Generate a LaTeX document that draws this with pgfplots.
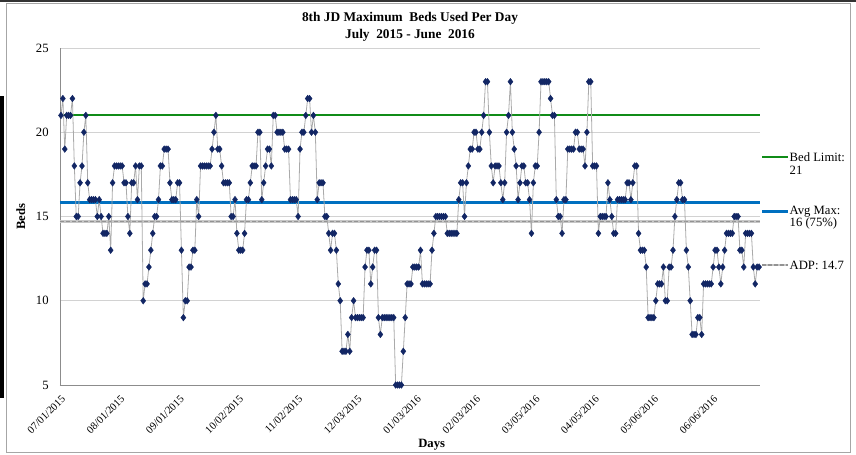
\documentclass[border=0pt]{standalone}
\usepackage{fontspec}
\setmainfont{Liberation Serif}
\usepackage{pgfplots}
\pgfplotsset{compat=1.18}
\usepackage{pgfplotstable}
\definecolor{bedgreen}{RGB}{16,140,24}
\definecolor{avgblue}{RGB}{0,112,192}
\definecolor{navy}{RGB}{18,38,100}
\definecolor{linegray}{RGB}{170,170,170}
\newcommand{\legfont}{\fontsize{9.5}{11}\selectfont}

\pgfplotstableread[header=false,row sep=\\]{
21\\22\\19\\21\\21\\21\\22\\18\\15\\15\\
17\\18\\20\\21\\17\\16\\16\\16\\16\\15\\
16\\15\\14\\14\\14\\15\\13\\17\\18\\18\\
18\\18\\18\\17\\17\\15\\14\\17\\17\\18\\
16\\18\\18\\10\\11\\11\\12\\13\\14\\15\\
15\\16\\18\\18\\19\\19\\19\\17\\16\\16\\
16\\17\\17\\13\\9\\10\\10\\12\\12\\13\\
13\\16\\15\\18\\18\\18\\18\\18\\18\\19\\
20\\21\\19\\19\\18\\17\\17\\17\\17\\15\\
15\\16\\14\\13\\13\\13\\14\\16\\16\\17\\
18\\18\\18\\20\\20\\16\\17\\18\\19\\19\\
18\\21\\21\\20\\20\\20\\20\\19\\19\\19\\
16\\16\\16\\16\\15\\19\\20\\20\\21\\22\\
22\\20\\21\\20\\16\\17\\17\\17\\15\\15\\
14\\13\\14\\14\\13\\11\\10\\7\\7\\7\\
8\\7\\9\\10\\9\\9\\9\\9\\9\\12\\
13\\13\\11\\12\\13\\13\\9\\8\\9\\9\\
9\\9\\9\\9\\9\\5\\5\\5\\5\\7\\
9\\11\\11\\11\\12\\12\\12\\12\\13\\11\\
11\\11\\11\\11\\13\\14\\15\\15\\15\\15\\
15\\15\\14\\14\\14\\14\\14\\14\\16\\17\\
17\\15\\17\\18\\19\\19\\20\\20\\19\\19\\
20\\21\\23\\23\\20\\18\\17\\18\\18\\18\\
17\\16\\17\\20\\21\\23\\20\\19\\18\\16\\
17\\18\\18\\17\\17\\16\\14\\17\\18\\18\\
20\\23\\23\\23\\23\\23\\22\\21\\21\\16\\
15\\15\\14\\16\\16\\19\\19\\19\\19\\20\\
20\\19\\19\\19\\18\\20\\23\\23\\18\\18\\
18\\14\\15\\15\\15\\15\\17\\16\\15\\14\\
14\\16\\16\\16\\16\\16\\17\\17\\16\\17\\
18\\18\\14\\13\\13\\13\\12\\9\\9\\9\\
9\\10\\11\\11\\11\\12\\10\\10\\12\\12\\
13\\15\\16\\17\\17\\16\\16\\13\\12\\10\\
8\\8\\8\\9\\9\\8\\11\\11\\11\\11\\
11\\12\\13\\13\\12\\11\\12\\13\\14\\14\\
14\\14\\15\\15\\15\\13\\13\\12\\14\\14\\
14\\14\\12\\11\\12\\12\\
}\beds

\begin{document}
\begin{tikzpicture}
\begin{axis}[
  at={(0,0)}, anchor=south west,
  scale only axis, width=525pt, height=252.75pt,
  clip=false,
  xmin=-0.5, xmax=365.5, ymin=5, ymax=25,
  ytick={5,10,15,20,25},
  xtick={0,31,62,93,124,155,186,217,248,279,310,341},
  xticklabels={07/01/2015,08/01/2015,09/01/2015,10/02/2015,11/02/2015,12/03/2015,01/03/2016,02/03/2016,03/05/2016,04/05/2016,05/06/2016,06/06/2016},
  x tick label style={rotate=45, anchor=north east, font=\fontsize{8}{9}\selectfont, inner sep=1pt, yshift=-4pt, xshift=-4pt},
  y tick label style={font=\fontsize{9.5}{11}\selectfont, xshift=-5pt},
  /pgf/number format/assume math mode=true,
  axis lines*=left,
  axis line style={draw=gray!90, line width=0.6pt},
  tick style={draw=none},
  ymajorgrids,
  grid style={gray!35, line width=0.6pt},
  title={8th JD Maximum\ \ Beds Used Per Day\\July\ \ 2015 - June\ \ 2016},
  title style={font=\bfseries\fontsize{10}{12.5}\selectfont, align=center, at={(axis description cs:0.5,1.04)}, anchor=center},
  xlabel={Days},
  xlabel style={font=\bfseries\fontsize{9.5}{11}\selectfont, at={(axis description cs:0.531,-0.178)}, anchor=center},
  ylabel={Beds},
  ylabel style={font=\bfseries\fontsize{9.5}{11}\selectfont, at={(axis description cs:-0.056,0.5)}, anchor=center},
]
\addplot[bedgreen, line width=1.6pt, forget plot] coordinates {(-0.5,21) (365.5,21)};
\addplot[avgblue, line width=2.2pt, forget plot] coordinates {(-0.5,15.85) (365.5,15.85)};
\addplot[gray!45, line width=1.8pt, forget plot] coordinates {(-0.5,14.7) (365.5,14.7)};
\addplot[gray!85, line width=1.1pt, dash pattern=on 3pt off 1.5pt, forget plot] coordinates {(-0.5,14.7) (365.5,14.7)};
\addplot[linegray, line width=0.6pt, mark=diamond*, mark size=2.5pt,
  mark options={draw=navy, fill=navy, line width=0.3pt}]
  table[x expr=\coordindex, y index=0] {\beds};
% legend
\draw[bedgreen, line width=1.6pt] (rel axis cs:1.003,0.677) -- (rel axis cs:1.04,0.677);
\node[anchor=west, inner sep=0pt, font=\legfont] at (rel axis cs:1.042,0.677) {Bed Limit:};
\node[anchor=west, inner sep=0pt, font=\legfont] at (rel axis cs:1.042,0.637) {21};
\draw[avgblue, line width=2.2pt] (rel axis cs:1.003,0.515) -- (rel axis cs:1.04,0.515);
\node[anchor=west, inner sep=0pt, font=\legfont] at (rel axis cs:1.042,0.513) {Avg Max:};
\node[anchor=west, inner sep=0pt, font=\legfont] at (rel axis cs:1.042,0.478) {16 (75\%)};
\draw[gray!45, line width=1.8pt] (rel axis cs:1.003,0.356) -- (rel axis cs:1.04,0.356);
\draw[gray!85, line width=1.1pt, dash pattern=on 3pt off 1.5pt] (rel axis cs:1.003,0.356) -- (rel axis cs:1.04,0.356);
\node[anchor=west, inner sep=0pt, font=\legfont] at (rel axis cs:1.042,0.356) {ADP: 14.7};
\end{axis}
\pgfresetboundingbox
\path[use as bounding box] (-45pt,-51.75pt) rectangle (597pt,288.75pt);
\draw[gray!70, line width=0.5pt] (-40.5pt,-50.25pt) rectangle (592.5pt,286.5pt);
\fill[black] (-45pt,-9.75pt) rectangle (-42pt,216.75pt);
\fill[black!80] (-45pt,287.6pt) rectangle (597pt,288.75pt);
\end{tikzpicture}
\end{document}
